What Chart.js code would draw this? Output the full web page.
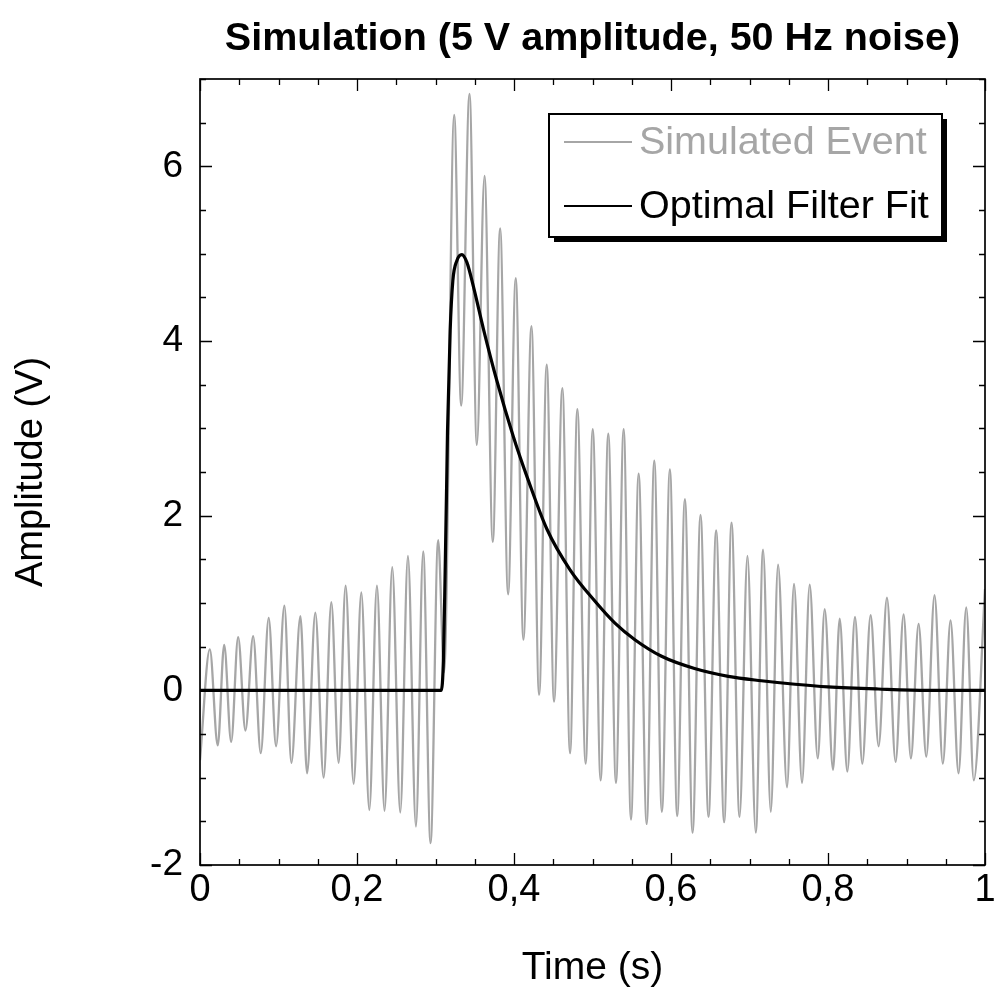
<!DOCTYPE html>
<html>
<head>
<meta charset="utf-8">
<script src="https://cdn.jsdelivr.net/npm/chart.js@4.4.1/dist/chart.umd.min.js"></script>
<style>
  html, body { margin: 0; padding: 0; background: #ffffff; }
  #wrap { width: 994px; height: 1005px; position: relative; }
</style>
</head>
<body>
<div id="wrap"><canvas id="c" width="994" height="1005"></canvas></div>
<script>
// ---------------- data ----------------
const simTime = [
  0.0000, 0.0125, 0.0226, 0.0308, 0.0397, 0.0486, 0.0579, 0.0677, 0.0774, 0.0875,
  0.0969, 0.1075, 0.1164, 0.1279, 0.1364, 0.1469, 0.1575, 0.1673, 0.1766, 0.1855,
  0.1957, 0.2055, 0.2157, 0.2254, 0.2351, 0.2449, 0.2551, 0.2649, 0.2751, 0.2843,
  0.2937, 0.3034, 0.3110, 0.3238, 0.3327, 0.3433, 0.3527, 0.3624, 0.3730, 0.3823,
  0.3925, 0.4022, 0.4120, 0.4222, 0.4320, 0.4417, 0.4510, 0.4616, 0.4714, 0.4807,
  0.4913, 0.5003, 0.5104, 0.5201, 0.5299, 0.5397, 0.5490, 0.5588, 0.5690, 0.5787,
  0.5884, 0.5986, 0.6079, 0.6177, 0.6275, 0.6376, 0.6478, 0.6575, 0.6677, 0.6771,
  0.6873, 0.6974, 0.7080, 0.7173, 0.7271, 0.7364, 0.7478, 0.7567, 0.7669, 0.7767,
  0.7869, 0.7958, 0.8064, 0.8149, 0.8246, 0.8344, 0.8437, 0.8543, 0.8645, 0.8751,
  0.8861, 0.8963, 0.9056, 0.9154, 0.9252, 0.9357, 0.9463, 0.9561, 0.9663, 0.9761,
  0.9857, 1.0000
];
const simAmp = [
  -0.80, 0.47, -0.63, 0.52, -0.59, 0.61, -0.46, 0.62, -0.72, 0.83,
  -0.64, 0.97, -0.83, 0.85, -0.95, 0.89, -1.00, 1.01, -0.83, 1.20,
  -1.07, 1.12, -1.37, 1.20, -1.38, 1.41, -1.40, 1.54, -1.56, 1.59,
  -1.75, 1.72, 0.21, 6.59, 3.26, 6.83, 2.81, 5.89, 1.70, 5.29,
  1.10, 4.72, 0.58, 4.17, -0.05, 3.73, -0.13, 3.46, -0.72, 3.22,
  -0.84, 2.99, -1.03, 2.94, -1.06, 2.99, -1.48, 2.48, -1.53, 2.63,
  -1.39, 2.53, -1.44, 2.19, -1.63, 2.01, -1.45, 1.83, -1.51, 1.92,
  -1.45, 1.54, -1.63, 1.61, -1.39, 1.44, -1.11, 1.22, -1.06, 1.21,
  -0.78, 0.93, -0.91, 0.82, -0.93, 0.84, -0.84, 0.86, -0.64, 1.06,
  -0.82, 0.87, -0.78, 0.76, -0.76, 1.09, -0.84, 0.80, -0.95, 0.95,
  -1.03, 1.16
];
const fitTime = [
  0.0000, 0.3073, 0.3102, 0.3123, 0.3145, 0.3153, 0.3187, 0.3221, 0.3272, 0.3336,
  0.3400, 0.3484, 0.3610, 0.3780, 0.3990, 0.4180, 0.4417, 0.4714, 0.5032, 0.5286,
  0.5540, 0.5880, 0.6300, 0.6730, 0.7150, 0.7580, 0.8000, 0.8640, 0.9270, 1.0000
];
const fitAmp = [
  0.00, 0.00, 0.38, 1.37, 2.52, 2.97, 4.12, 4.69, 4.92, 4.99,
  4.90, 4.62, 4.14, 3.55, 2.91, 2.41, 1.85, 1.38, 1.02, 0.77,
  0.58, 0.39, 0.25, 0.16, 0.11, 0.07, 0.04, 0.015, 0.00, 0.00
];
const xTickValues = [0, 0.2, 0.4, 0.6, 0.8, 1];
const xTickLabels = ['0', '0,2', '0,4', '0,6', '0,8', '1'];
const yTickValues = [-2, 0, 2, 4, 6];
const yTickLabels = ['-2', '0', '2', '4', '6'];
const seriesNames = ['Simulated Event', 'Optimal Filter Fit'];
const titleText = 'Simulation (5 V amplitude, 50 Hz noise)';
const xAxisTitle = 'Time (s)';
const yAxisTitle = 'Amplitude (V)';

// ---------------- styling ----------------
const FONT = "'Liberation Sans', Arial, Helvetica, sans-serif";
const GRAY = '#a6a6a6';

function labelFor(values, labels, v) {
  for (let i = 0; i < values.length; i++) {
    if (Math.abs(values[i] - v) < 1e-6) return labels[i];
  }
  return '';
}

const frameTicks = {
  id: 'frameTicks',
  afterDatasetsDraw(chart) {
    const { ctx, chartArea: a, scales } = chart;
    const xs = scales.x, ys = scales.y;
    ctx.save();
    ctx.strokeStyle = '#000';
    ctx.lineWidth = 1.3;
    ctx.beginPath();
    xs.ticks.forEach(t => {
      const px = Math.round(xs.getPixelForValue(t.value)) + 0.5;
      const len = t.label ? 12 : 6;
      ctx.moveTo(px, a.bottom); ctx.lineTo(px, a.bottom - len);
      ctx.moveTo(px, a.top); ctx.lineTo(px, a.top + len);
    });
    ys.ticks.forEach(t => {
      const py = Math.round(ys.getPixelForValue(t.value)) + 0.5;
      const len = t.label ? 12 : 6;
      ctx.moveTo(a.left, py); ctx.lineTo(a.left + len, py);
      ctx.moveTo(a.right, py); ctx.lineTo(a.right - len, py);
    });
    ctx.stroke();
    ctx.lineWidth = 1.7;
    ctx.strokeRect(a.left, a.top, a.right - a.left, a.bottom - a.top);
    ctx.restore();
  }
};

const boxLegend = {
  id: 'boxLegend',
  afterDraw(chart) {
    const ctx = chart.ctx;
    const L = 549, T = 114, R = 942, B = 237, sh = 5;
    ctx.save();
    ctx.fillStyle = '#000';
    ctx.fillRect(L + sh, T + sh, R - L, B - T);
    ctx.fillStyle = '#fff';
    ctx.fillRect(L, T, R - L, B - T);
    ctx.strokeStyle = '#000';
    ctx.lineWidth = 2;
    ctx.strokeRect(L, T, R - L, B - T);
    const rows = [142, 206];
    chart.data.datasets.forEach((ds, i) => {
      const yy = rows[i];
      ctx.strokeStyle = ds.borderColor;
      ctx.lineWidth = 2;
      ctx.beginPath();
      ctx.moveTo(564, yy); ctx.lineTo(632, yy);
      ctx.stroke();
      ctx.fillStyle = ds.borderColor;
      ctx.font = '39.5px ' + FONT;
      ctx.textAlign = 'left';
      ctx.textBaseline = 'middle';
      ctx.fillText(ds.label, 639, yy + 1);
    });
    ctx.restore();
  }
};

const chart = new Chart(document.getElementById('c'), {
  type: 'line',
  data: {
    datasets: [
      {
        label: seriesNames[0],
        data: simTime.map((t, i) => ({ x: t, y: simAmp[i] })),
        borderColor: GRAY,
        borderWidth: 2.3,
        pointRadius: 0,
        cubicInterpolationMode: 'monotone',
        fill: false,
        order: 2
      },
      {
        label: seriesNames[1],
        data: fitTime.map((t, i) => ({ x: t, y: fitAmp[i] })),
        borderColor: '#000000',
        borderWidth: 3.2,
        pointRadius: 0,
        cubicInterpolationMode: 'monotone',
        fill: false,
        order: 1
      }
    ]
  },
  options: {
    responsive: false,
    animation: false,
    events: [],
    layout: { padding: { left: 0, right: 9, top: 0, bottom: 0 } },
    plugins: {
      legend: { display: false },
      tooltip: { enabled: false },
      title: {
        display: true,
        text: titleText,
        fullSize: false,
        color: '#000',
        font: { family: FONT, size: 39.5, weight: 'bold', lineHeight: 1.2 },
        padding: { top: 15, bottom: 16.6 }
      }
    },
    scales: {
      x: {
        type: 'linear',
        min: 0,
        max: 1,
        grid: { display: false, drawTicks: false },
        border: { display: false },
        ticks: {
          stepSize: 0.05,
          autoSkip: false,
          maxRotation: 0,
          padding: 3,
          color: '#000',
          font: { family: FONT, size: 38 },
          callback: (v) => labelFor(xTickValues, xTickLabels, v)
        },
        title: {
          display: true,
          text: xAxisTitle,
          color: '#000',
          font: { family: FONT, size: 39, lineHeight: 1.2 },
          padding: { top: 0, bottom: 13 }
        },
        afterFit(scale) {
          scale.height = 140;
          scale.paddingLeft = 0;
          scale.paddingRight = 0;
        }
      },
      y: {
        type: 'linear',
        min: -2,
        max: 7,
        grid: { display: false, drawTicks: false },
        border: { display: false },
        ticks: {
          stepSize: 0.5,
          autoSkip: false,
          padding: 17,
          color: '#000',
          font: { family: FONT, size: 37 },
          callback: (v) => labelFor(yTickValues, yTickLabels, v)
        },
        title: {
          display: true,
          text: yAxisTitle,
          color: '#000',
          font: { family: FONT, size: 38, lineHeight: 1.2 },
          padding: { top: 9, bottom: 0 }
        },
        afterFit(scale) {
          scale.width = 200;
          scale.paddingTop = 0;
          scale.paddingBottom = 0;
        }
      }
    }
  },
  plugins: [frameTicks, boxLegend]
});
</script>
</body>
</html>
